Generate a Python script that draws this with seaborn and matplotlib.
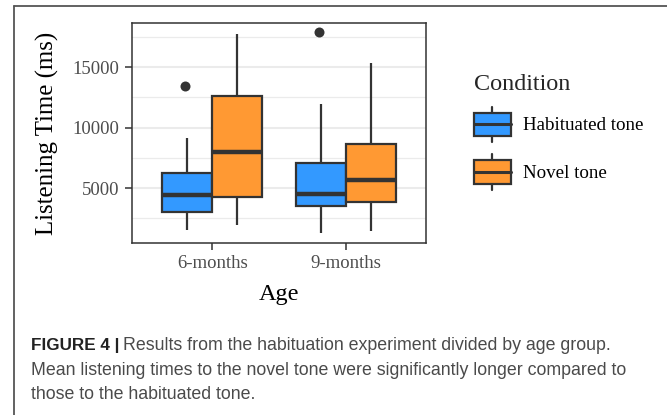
import matplotlib
matplotlib.use("Agg")
import matplotlib.pyplot as plt
import pandas as pd
import seaborn as sns
from matplotlib.legend_handler import HandlerBase
from matplotlib.lines import Line2D
from matplotlib.patches import Patch, Rectangle
from matplotlib.ticker import FixedLocator


AGES = ["6-months", "9-months"]
CONDITIONS = ["Habituated tone", "Novel tone"]
COLORS = ["#3399FF", "#FF9933"]

# lower whisker, Q1, median, Q3, upper whisker (ms)
HABITUATED_6M = [1530, 3000, 4450, 6250, 9100]
NOVEL_6M = [1940, 4230, 8000, 12630, 17700]
HABITUATED_9M = [1260, 3510, 4530, 7090, 11970]
NOVEL_9M = [1470, 3820, 5660, 8610, 15300]

OUTLIER_AGES = ["6-months", "9-months"]
OUTLIER_CONDITIONS = ["Habituated tone", "Habituated tone"]
OUTLIER_TIMES = [13450, 17870]

Y_TICKS = [5000, 10000, 15000]
Y_MINOR = [2500, 7500, 12500, 17500]

INK = "#333333"
GRID = "#EBEBEB"
SERIF = ["Liberation Serif", "DejaVu Serif"]


def build_box_data():
    groups = [
        ("6-months", "Habituated tone", HABITUATED_6M),
        ("6-months", "Novel tone", NOVEL_6M),
        ("9-months", "Habituated tone", HABITUATED_9M),
        ("9-months", "Novel tone", NOVEL_9M),
    ]
    rows = []
    for age, condition, values in groups:
        for value in values:
            rows.append({"Age": age, "Condition": condition, "Time": value})
    return pd.DataFrame(rows)


class BoxKeyHandler(HandlerBase):
    def create_artists(self, legend, orig_handle, xdescent, ydescent, width, height, fontsize, trans):
        x0 = -xdescent
        y0 = -ydescent
        mid_y = y0 + height / 2
        box_h = height * 0.66
        mid_x = x0 + width / 2
        whisker = Line2D([mid_x, mid_x], [y0, y0 + height], color=INK, linewidth=1.6, transform=trans)
        box = Rectangle(
            (x0, mid_y - box_h / 2),
            width,
            box_h,
            facecolor=orig_handle.get_facecolor(),
            edgecolor=INK,
            linewidth=1.6,
            transform=trans,
        )
        median = Line2D([x0, x0 + width], [mid_y, mid_y], color=INK, linewidth=2.2, transform=trans)
        return [whisker, box, median]


def main():
    sns.set_theme(style="white")
    plt.rcParams["font.family"] = SERIF

    box_data = build_box_data()
    outliers = pd.DataFrame({"Age": OUTLIER_AGES, "Condition": OUTLIER_CONDITIONS, "Time": OUTLIER_TIMES})

    fig = plt.figure(figsize=(6.67, 4.15), dpi=100)
    ax = fig.add_axes([132 / 667, 1 - 243 / 415, 294 / 667, 220 / 415])

    ax.yaxis.set_minor_locator(FixedLocator(Y_MINOR))
    ax.grid(axis="y", which="minor", color=GRID, linewidth=0.9, zorder=0)
    ax.grid(axis="both", which="major", color=GRID, linewidth=1.5, zorder=0)
    ax.set_axisbelow(True)

    sns.boxplot(
        data=box_data,
        x="Age",
        y="Time",
        hue="Condition",
        order=AGES,
        hue_order=CONDITIONS,
        palette=dict(zip(CONDITIONS, COLORS)),
        width=0.75,
        linecolor=INK,
        linewidth=1.6,
        fliersize=0,
        saturation=1,
        legend=False,
        medianprops={"linewidth": 3.2},
        capprops={"visible": False},
        ax=ax,
    )
    sns.stripplot(
        data=outliers,
        x="Age",
        y="Time",
        hue="Condition",
        order=AGES,
        hue_order=CONDITIONS,
        palette=dict(zip(CONDITIONS, [INK, INK])),
        dodge=True,
        jitter=False,
        size=7.2,
        linewidth=0,
        legend=False,
        ax=ax,
    )

    ax.set_xlim(-0.6, 1.6)
    ax.set_ylim(455, 18640)
    ax.set_yticks(Y_TICKS)
    ax.set_yticklabels([str(v) for v in Y_TICKS])
    ax.tick_params(axis="both", which="major", length=5, width=1.1, color=INK,
                   labelsize=13.5, labelcolor="#4D4D4D", left=True, bottom=True)
    ax.tick_params(axis="y", pad=4)
    ax.tick_params(axis="x", pad=3.5)
    ax.tick_params(which="minor", length=0)
    for spine in ax.spines.values():
        spine.set_visible(True)
        spine.set_color(INK)
        spine.set_linewidth(1.1)

    ax.set_xlabel("Age", fontsize=17.5, color="black", labelpad=8.5)
    ax.set_ylabel("Listening Time (ms)", fontsize=17.9, color="black", labelpad=10)

    handles = [Patch(facecolor=c) for c in COLORS]
    legend = ax.legend(
        handles,
        CONDITIONS,
        handler_map={Patch: BoxKeyHandler()},
        title="Condition",
        title_fontsize=17.4,
        fontsize=13.7,
        frameon=False,
        loc="upper left",
        bbox_to_anchor=(464 / 667, 1 - 64 / 415),
        bbox_transform=fig.transFigure,
        alignment="left",
        borderpad=0,
        handlelength=1.95,
        handleheight=2.5,
        handletextpad=0.65,
        labelspacing=0.63,
    )
    for text in legend.get_texts():
        text.set_color("black")

    # frame around the figure panel
    fig.add_artist(Line2D([14 / 667, 1], [1 - 6 / 415, 1 - 6 / 415], color="#555555", linewidth=1.3))
    fig.add_artist(Line2D([14 / 667, 14 / 667], [0, 1 - 6 / 415], color="#555555", linewidth=1.3))

    # caption
    sans = ["Liberation Sans", "DejaVu Sans"]
    caption_size = 12.75
    caption_x = 31 / 667
    bold = fig.text(caption_x, 1 - 345 / 415, "FIGURE 4 |", fontsize=12.3, fontweight="bold",
                    family=sans, color="#222222", va="center")
    fig.canvas.draw()
    bbox = bold.get_window_extent()
    rest_x = (bbox.x1 + 4) / fig.bbox.width
    fig.text(rest_x, 1 - 345 / 415, "Results from the habituation experiment divided by age group.",
             fontsize=caption_size, family=sans, color="#4A4A4A", va="center")
    fig.text(caption_x, 1 - 370 / 415,
             "Mean listening times to the novel tone were significantly longer compared to",
             fontsize=caption_size, family=sans, color="#4A4A4A", va="center")
    fig.text(caption_x, 1 - 394 / 415, "those to the habituated tone.",
             fontsize=caption_size, family=sans, color="#4A4A4A", va="center")

    fig.savefig("out.png", dpi=100)
    plt.close(fig)


if __name__ == "__main__":
    main()
